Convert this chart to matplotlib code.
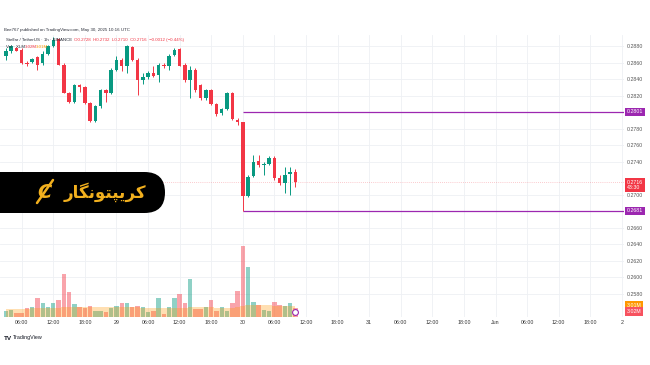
import matplotlib.pyplot as plt
from matplotlib.patches import FancyBboxPatch
import numpy as np

# XLM/USDT 1h candles, hours counted from 28 May 2025 00:00 UTC
hours = np.arange(3, 59)
opens = [0.2869, 0.2874, 0.2878, 0.2876, 0.2860, 0.2861, 0.2867, 0.2860, 0.2871, 0.2881,
         0.2889, 0.2858, 0.2824, 0.2813, 0.2833, 0.2831, 0.2811, 0.2790, 0.2808, 0.2827,
         0.2823, 0.2851, 0.2864, 0.2856, 0.2879, 0.2864, 0.2839, 0.2843, 0.2848, 0.2846,
         0.2858, 0.2856, 0.2870, 0.2877, 0.2858, 0.2839, 0.2852, 0.2833, 0.2817, 0.2827,
         0.2810, 0.2799, 0.2804, 0.2824, 0.2791, 0.2788, 0.2699, 0.2723, 0.2741, 0.2736,
         0.2737, 0.2745, 0.2720, 0.2714, 0.2725, 0.2728]
highs = [0.2878, 0.2882, 0.2879, 0.2878, 0.2862, 0.2866, 0.2868, 0.2874, 0.2882, 0.2891,
         0.2890, 0.2860, 0.2825, 0.2835, 0.2835, 0.2832, 0.2813, 0.2809, 0.2829, 0.2829,
         0.2854, 0.2868, 0.2866, 0.2882, 0.2881, 0.2866, 0.2848, 0.2850, 0.2856, 0.2860,
         0.2860, 0.2871, 0.2878, 0.2878, 0.2860, 0.2856, 0.2854, 0.2835, 0.2829, 0.2829,
         0.2812, 0.2805, 0.2825, 0.2825, 0.2793, 0.2789, 0.2724, 0.2749, 0.2749, 0.2740,
         0.2747, 0.2747, 0.2724, 0.2734, 0.2734, 0.2732]
lows = [0.2864, 0.2872, 0.2874, 0.2859, 0.2856, 0.2860, 0.2852, 0.2858, 0.2870, 0.2879,
        0.2858, 0.2823, 0.2812, 0.2812, 0.2825, 0.2810, 0.2789, 0.2789, 0.2806, 0.2813,
        0.2822, 0.2850, 0.2850, 0.2848, 0.2862, 0.2821, 0.2835, 0.2841, 0.2843, 0.2837,
        0.2854, 0.2852, 0.2868, 0.2856, 0.2837, 0.2817, 0.2825, 0.2815, 0.2815, 0.2809,
        0.2796, 0.2797, 0.2803, 0.2791, 0.2785, 0.2681, 0.2698, 0.2722, 0.2734, 0.2724,
        0.2736, 0.2718, 0.2712, 0.2702, 0.2700, 0.2710]
closes = [0.2874, 0.2880, 0.2875, 0.2860, 0.2859, 0.2865, 0.2858, 0.2871, 0.2880, 0.2888,
          0.2858, 0.2824, 0.2813, 0.2833, 0.2831, 0.2811, 0.2790, 0.2808, 0.2827, 0.2823,
          0.2852, 0.2864, 0.2856, 0.2880, 0.2864, 0.2839, 0.2843, 0.2848, 0.2844, 0.2858,
          0.2856, 0.2869, 0.2876, 0.2856, 0.2839, 0.2852, 0.2827, 0.2817, 0.2827, 0.2810,
          0.2798, 0.2804, 0.2824, 0.2792, 0.2788, 0.2699, 0.2722, 0.2740, 0.2736, 0.2737,
          0.2745, 0.2720, 0.2714, 0.2724, 0.2728, 0.2716]
# volume in millions XLM
volumes = [2.1, 2.3, 1.3, 1.5, 3.0, 3.6, 6.5, 5.0, 3.6, 4.7,
           5.9, 15.0, 8.8, 4.6, 3.3, 3.0, 3.9, 2.1, 2.1, 1.7,
           3.0, 3.9, 4.7, 5.0, 3.6, 3.9, 3.6, 1.7, 2.1, 6.6,
           1.2, 3.5, 6.6, 8.1, 4.7, 13.3, 2.7, 2.7, 3.3, 6.0,
           2.0, 3.5, 2.1, 4.7, 9.1, 24.6, 17.4, 5.1, 4.3, 2.5,
           2.0, 5.1, 4.0, 3.9, 4.7, 3.0]
vol_ma = [2.9, 2.9, 2.9, 2.9, 2.9, 3.0, 3.0, 3.1, 3.1, 3.2,
          3.2, 3.5, 3.6, 3.6, 3.6, 3.6, 3.6, 3.5, 3.5, 3.4,
          3.4, 3.4, 3.4, 3.3, 3.3, 3.3, 3.2, 3.2, 3.2, 3.2,
          3.1, 3.1, 3.2, 3.2, 3.2, 3.4, 3.3, 3.3, 3.3, 3.3,
          3.2, 3.2, 3.2, 3.2, 3.3, 3.9, 4.2, 4.2, 4.1, 4.0,
          4.0, 3.9, 3.9, 3.8, 3.8, 3.7]

tick_hours = [6, 12, 18, 24, 30, 36, 42, 48, 54, 60, 66, 72, 78, 84, 90, 96, 102, 108, 114, 120]
tick_labels = ['06:00', '12:00', '18:00', '29', '06:00', '12:00', '18:00', '30', '06:00', '12:00',
               '18:00', '31', '06:00', '12:00', '18:00', 'Jun', '06:00', '12:00', '18:00', '2']
price_ticks = [0.2580, 0.2600, 0.2620, 0.2640, 0.2660, 0.2700, 0.2740, 0.2760,
               0.2780, 0.2820, 0.2840, 0.2860, 0.2880]
resistance = 0.2801
support = 0.2681
level_start = 48
last_price = 0.2716

GREEN = '#089981'
RED = '#f23645'
PURPLE = '#9c27b0'
GOLD = '#f2b01e'
plt.rcParams['font.family'] = ['Liberation Sans', 'DejaVu Sans']

opens = np.array(opens)
closes = np.array(closes)
up = closes >= opens
colors = np.where(up, GREEN, RED)

fig = plt.figure(figsize=(6.5, 3.65), dpi=100)
ax = fig.add_axes([0, 48 / 365, 624 / 650, 282 / 365])
ax2 = ax.twinx()  # volume pane
ax.set_xlim(1.88, 120.4)
ax.set_ylim(0.25521, 0.28939)

ax.grid(color='#eef0f4', lw=0.6)
ax.set_axisbelow(True)
for a in (ax, ax2):
    for s in a.spines.values():
        s.set_visible(False)

ax.set_xticks(tick_hours, tick_labels)
ax.set_yticks(price_ticks, ['%.4f' % p for p in price_ticks])
ax.yaxis.tick_right()
ax.tick_params(axis='x', length=0, pad=2.5, labelsize=3.8, labelcolor='#333333')
ax.tick_params(axis='y', length=0, pad=2.2, labelsize=3.8, labelcolor='#555555')

# candles
ax.vlines(hours, lows, highs, color=colors, lw=0.7, zorder=3)
body = np.maximum(np.abs(closes - opens), 0.00003)
ax.bar(hours, body, bottom=np.minimum(opens, closes), width=0.66, color=colors, zorder=4)

ax.axhline(last_price, color=RED, lw=0.5, ls=(0, (1, 2)), alpha=0.5)
ax.hlines([resistance, support], level_start, 120.4, color=PURPLE, lw=0.9, zorder=2)

box_kw = dict(xytext=(2.2, 0), textcoords='offset points', fontsize=3.8, color='white',
              va='center', ha='left', annotation_clip=False)
for lvl in [resistance, support]:
    ax.annotate('%.4f' % lvl, xy=(1, lvl), xycoords=ax.get_yaxis_transform(),
                bbox=dict(boxstyle='square,pad=0.3', fc=PURPLE, ec='none'), **box_kw)
ax.annotate('%.4f\n43:30' % last_price, xy=(1, last_price), xycoords=ax.get_yaxis_transform(),
            xytext=(2.2, -2.3), textcoords='offset points', fontsize=3.8, color='white',
            va='center', ha='left', linespacing=1.15, annotation_clip=False,
            bbox=dict(boxstyle='square,pad=0.3', fc=RED, ec='none'))

# volume bars with their moving average band
ax2.set_ylim(0, 97.6)
ax2.set_yticks([])
ax2.bar(hours, volumes, width=0.84, color=colors, alpha=0.45, lw=0)
ax2.fill_between(hours, 0, vol_ma, step='mid', color='#ff9800', alpha=0.3, lw=0)
ax2.plot(hours[-1], 1.6, 'o', mfc='white', mec=PURPLE, ms=4.2, mew=0.8)
ax2.annotate('3.01M', xy=(1, 4.0), xycoords=ax2.get_yaxis_transform(),
             bbox=dict(boxstyle='square,pad=0.3', fc='#ff9800', ec='none'), **box_kw)
ax2.annotate('3.02M', xy=(1, 1.9), xycoords=ax2.get_yaxis_transform(),
             bbox=dict(boxstyle='square,pad=0.3', fc='#f7525f', ec='none'), **box_kw)

# overlay in pixel coordinates: header, banner, footer
ov = fig.add_axes([0, 0, 1, 1])
ov.set_xlim(0, 650)
ov.set_ylim(365, 0)
ov.axis('off')

hdr = dict(fontsize=3.2, va='center')
ov.text(4, 29.5, 'Bee767 published on TradingView.com, May 30, 2025 10:16 UTC', color='#2a2e39', **hdr)
ov.text(6, 40, 'Stellar / TetherUS \u00b7 1h \u00b7 BINANCE', color='#2a2e39', **hdr)
ov.text(74, 40, 'O0.2728  H0.2732  L0.2710  C0.2716  \u22120.0012 (\u22120.44%)', color=RED, **hdr)
ov.text(6, 46.5, 'Vol \u00b7 XLM', color='#2a2e39', **hdr)
ov.text(25, 46.5, '3.02M', color=RED, **hdr)
ov.text(36, 46.5, '3.01M', color='#ff9800', **hdr)

ov.text(4, 338, 'TV', fontsize=4.6, fontweight='bold', color='#131722', va='center')
ov.text(12.5, 338, 'TradingView', fontsize=3.9, color='#131722', va='center')

banner = FancyBboxPatch((-25, 172), 190, 41, boxstyle='round,pad=0,rounding_size=20.5',
                        fc='black', ec='none')
ov.add_patch(banner)
# Persian "کریپتونگار" written with presentation forms, visual order
name = '\uFEAD\uFE8E\uFB95\uFEE7\uFEEE\uFE98\uFB59\uFBFE\uFEAE\uFB90'
ov.text(105, 192, name, fontsize=12, fontweight='bold', color=GOLD,
        ha='center', va='center', family='DejaVu Sans')
ov.text(44, 192, 'C', fontsize=14, fontweight='bold', style='italic', color=GOLD,
        ha='center', va='center', family='DejaVu Sans')
ov.plot([37, 53], [203, 180], color=GOLD, lw=1.8, solid_capstyle='round')

fig.savefig('out.png', dpi=100)
